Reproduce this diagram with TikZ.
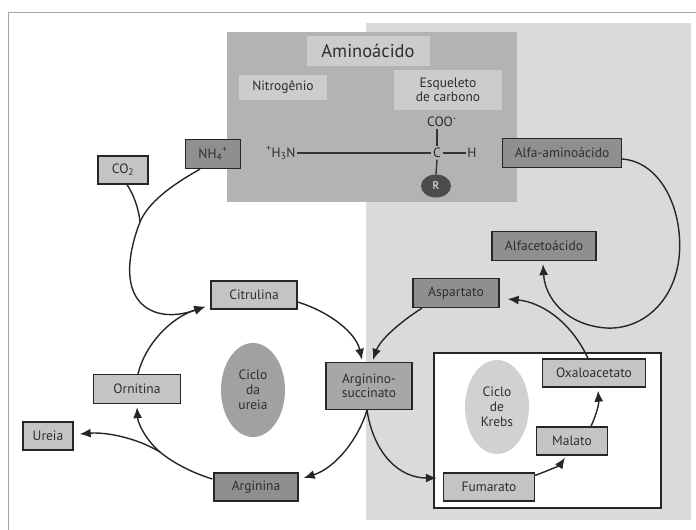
\documentclass[tikz,border=0pt]{standalone}
\usepackage{fontspec}
\setmainfont{PT Sans}
\usetikzlibrary{arrows.meta,shapes.geometric,calc}
\definecolor{txt}{HTML}{2E2E2E}
\definecolor{bgl}{HTML}{D9DADC}
\definecolor{panel}{HTML}{B2B3B5}
\definecolor{lab}{HTML}{CBCCCE}
\definecolor{lbox}{HTML}{C3C4C6}
\definecolor{dbox}{HTML}{8E8F91}
\definecolor{mbox}{HTML}{A6A7A9}
\definecolor{ell1}{HTML}{A0A1A3}
\definecolor{ell2}{HTML}{D0D1D3}
\definecolor{rfill}{HTML}{4C4C4C}
\tikzset{
  bx/.style={draw=black!85, line width=1.3pt, inner sep=0pt, text=txt, font=\fontsize{13.5}{15}\selectfont, align=center},
  lightbx/.style={bx, fill=lbox},
  darkbx/.style={bx, fill=dbox},
  conn/.style={line width=1.4pt, draw=black!85},
  arr/.style={conn, -{Latex[length=11pt,width=9pt]}},
  lbl/.style={text=txt, font=\fontsize{13.5}{15}\selectfont, inner sep=0pt, align=center},
  chem/.style={text=txt, font=\fontsize{13.5}{15}\selectfont, inner sep=1.5pt},
  bond/.style={line width=1.4pt, draw=black!80},
}
\begin{document}
\begin{tikzpicture}[x=1pt,y=-1pt]
\useasboundingbox (0,0) rectangle (696,530);
\fill[white] (0,0) rectangle (696,530);
% outer frame
\draw[black!35, line width=0.8pt] (8,535) -- (8,12) -- (700,12);
% light background region
\fill[bgl] (366,23) rectangle (691,520);
% amino acid panel
\fill[panel] (227,32) rectangle (517,202);
\node[lbl, fill=lab, minimum width=123pt, minimum height=30pt, font=\fontsize{18.5}{20}\selectfont] (amino) at (368,51) {Aminoácido};
\node[lbl, fill=lab, minimum width=88pt, minimum height=25pt] (nitro) at (283,87) {Nitrogênio};
\node[lbl, fill=lab, minimum width=108pt, minimum height=40pt] (esq) at (448,90) {Esqueleto\\[-1pt]de carbono};
% chemistry
\node[chem] (h3n) at (281,153) {\textsuperscript{+}H\textsubscript{3}N};
\node[chem] (c) at (437,153) {C};
\node[chem] (h) at (472,153) {H};
\node[chem] (coo) at (442,122) {COO\textsuperscript{-}};
\node[ellipse, fill=rfill, minimum width=30pt, minimum height=23pt, inner sep=0pt, text=white, font=\fontsize{11}{12}\selectfont] (r) at (436,186) {R};
\draw[bond] (h3n.east) -- (c.west);
\draw[bond] (c.east) -- (h.west);
\draw[bond] (coo.south -| c) -- (c.north);
\draw[bond] (c.south) -- (r.north);
% ellipses
\node[ellipse, fill=ell1, minimum width=64pt, minimum height=94pt, lbl] (cu) at (253,390) {Ciclo\\da\\ureia};
% Krebs box
\draw[black!85, line width=1.3pt, fill=white] (434,353) rectangle (661,508);
\node[ellipse, fill=ell2, minimum width=64pt, minimum height=94pt, lbl] (ck) at (497,407) {Ciclo\\de\\Krebs};
% boxes
\node[lightbx, minimum width=50pt, minimum height=28pt] (co2) at (123,170) {CO\textsubscript{2}};
\node[darkbx, minimum width=55pt, minimum height=29pt] (nh4) at (213,154) {NH\textsubscript{4}\textsuperscript{+}};
\node[darkbx, minimum width=119pt, minimum height=29pt] (alfaam) at (562,153) {Alfa-aminoácido};
\node[darkbx, minimum width=104pt, minimum height=29pt] (alfaceto) at (544,246) {Alfacetoácido};
\node[darkbx, minimum width=86pt, minimum height=29pt] (asp) at (456,293) {Aspartato};
\node[lightbx, minimum width=86pt, minimum height=28pt] (cit) at (254,295) {Citrulina};
\node[lightbx, minimum width=87pt, minimum height=29pt] (orn) at (137,389) {Ornitina};
\node[lightbx, minimum width=50pt, minimum height=28pt] (ure) at (48,436) {Ureia};
\node[darkbx, minimum width=84pt, minimum height=28pt] (arg) at (256,487) {Arginina};
\node[bx, fill=mbox, minimum width=86pt, minimum height=47pt] (argsuc) at (369,386) {Arginino-\\[-1pt]succinato};
\node[lightbx, minimum width=103pt, minimum height=28pt] (oxa) at (594,373) {Oxaloacetato};
\node[lightbx, minimum width=71pt, minimum height=28pt] (mal) at (572,441) {Malato};
\node[lightbx, minimum width=91pt, minimum height=28pt] (fum) at (489,487) {Fumarato};
% coordinates
\coordinate (j1) at (140,222);
\coordinate (j2) at (160,452);
% connectors
\draw[conn] ($(nh4.south)+(-13,0)$) .. controls (170,186) and (148,203) .. (j1);
\draw[conn] ($(co2.south)+(4,0)$) .. controls (134,195) and (139,210) .. (j1);
\draw[arr] (j1) .. controls (126,258) and (122,300) .. (155,312) .. controls (172,318) and (190,312) .. ($(cit.south west)+(-5,-3)$);
\draw[arr] ($(orn.north)+(1,0)$) .. controls (145,345) and (170,318) .. ($(cit.south west)+(-5,-3)$);
\draw[arr] ($(cit.east)+(0,7)$) .. controls (330,312) and (356,333) .. ($(argsuc.north)+(-7,-2)$);
\draw[arr] ($(asp.south)+(-34,0)$) .. controls (400,322) and (380,340) .. ($(argsuc.north)+(4,-2)$);
\draw[arr] ($(argsuc.south)+(-2,0)$) .. controls (358,440) and (335,468) .. ($(arg.east)+(5,-9)$);
\draw[arr] ($(argsuc.south)+(-2,0)$) .. controls (374,455) and (400,478) .. ($(fum.west)+(-6,-9)$);
\draw[conn] ($(arg.west)+(-1,-8)$) .. controls (190,472) and (172,462) .. (j2);
\draw[arr] (j2) .. controls (148,442) and (138,425) .. ($(orn.south)+(0,3)$);
\draw[arr] (j2) .. controls (135,437) and (105,432) .. ($(ure.east)+(6,-2)$);
\draw[arr] ($(fum.north east)+(0,3)$) .. controls (550,470) and (560,465) .. ($(mal.south)+(-7,2)$);
\draw[arr] ($(mal.north)+(19,0)$) .. controls (596,415) and (599,405) .. ($(oxa.south)+(4,3)$);
\draw[arr] ($(oxa.north)+(-6,0)$) .. controls (570,320) and (540,302) .. ($(asp.east)+(8,6)$);
\draw[arr] ($(alfaam.east)+(0,6)$) .. controls (662,162) and (684,212) .. (679,258) .. controls (674,302) and (642,330) .. (606,328) .. controls (566,325) and (545,298) .. ($(alfaceto.south)+(-1,3)$);
\end{tikzpicture}
\end{document}
